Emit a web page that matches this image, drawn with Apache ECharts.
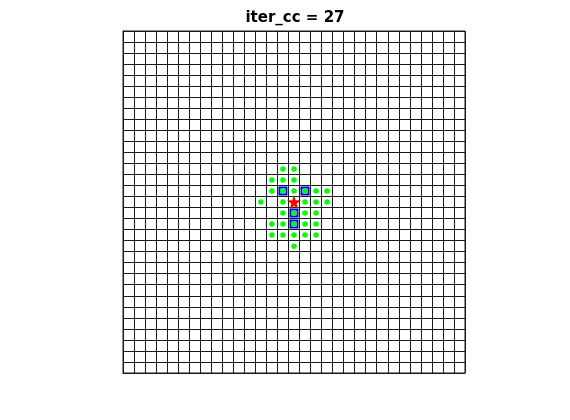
<!DOCTYPE html>
<html>
<head>
<meta charset="utf-8">
<script src="https://cdn.jsdelivr.net/npm/echarts@6/dist/echarts.min.js"></script>
<style>html,body{margin:0;padding:0;background:#fff;}#c{width:570px;height:420px;}</style>
</head>
<body>
<div id="c"></div>
<script>
const titleText = "iter_cc = 27";
const nCells = 31;
const cellLabels = Array.from({length: nCells}, (_, i) => String(i + 1));
// green points: [column index, row index] (0-based, rows counted from top)
const greenCols = [14,15, 13,14,15, 13,14,15,16,17,18, 12,14,16,17,18, 14,15,16,17, 13,14,15,16,17, 13,14,15,16,17, 15];
const greenRows = [12,12, 13,13,13, 14,14,14,14,14,14, 15,15,15,15,15, 16,16,16,16, 17,17,17,17,17, 18,18,18,18,18, 19];
const blueCols = [14, 16, 15, 15];
const blueRows = [14, 14, 16, 17];
const starCols = [15];
const starRows = [15];

const toData = (cols, rows) => cols.map((c, i) => [cellLabels[c], cellLabels[rows[i]]]);

const chart = echarts.init(document.getElementById('c'), null, {renderer: 'canvas'});
const lineColor = '#1a1a1a';
const catAxis = (inverse) => ({
  type: 'category',
  data: cellLabels,
  boundaryGap: true,
  inverse: inverse,
  axisLabel: {show: false},
  axisTick: {show: false},
  axisLine: {show: true, lineStyle: {color: lineColor, width: 1}},
  splitLine: {show: true, interval: 0, lineStyle: {color: lineColor, width: 1}}
});
chart.setOption({
  animation: false,
  backgroundColor: '#ffffff',
  graphic: [{
    type: 'text', x: 295, y: 18,
    style: {text: titleText, textAlign: 'center', textVerticalAlign: 'middle',
      font: 'bold 15px "DejaVu Sans"', fill: '#000'}
  }],
  grid: {left: 123, top: 31, width: 342, height: 342, show: true, borderColor: lineColor, borderWidth: 1, backgroundColor: 'transparent'},
  xAxis: catAxis(false),
  yAxis: catAxis(true),
  series: [
    {
      type: 'scatter', data: toData(blueCols, blueRows), symbol: 'rect', symbolSize: 7,
      itemStyle: {color: 'rgba(0,0,0,0)', borderColor: '#0000ff', borderWidth: 2, opacity: 1}, z: 3
    },
    {
      type: 'scatter', data: toData(greenCols, greenRows), symbol: 'circle', symbolSize: 5.5,
      itemStyle: {color: '#00ff00', opacity: 1}, z: 4
    },
    {
      type: 'scatter', data: toData(starCols, starRows),
      symbol: 'path://M50,0 L61.2,34.5 L97.6,34.5 L68.2,55.9 L79.4,90.5 L50,69.1 L20.6,90.5 L31.8,55.9 L2.4,34.5 L38.8,34.5 Z',
      symbolSize: 14, itemStyle: {color: '#ff0000', opacity: 1}, z: 5
    }
  ]
});
</script>
</body>
</html>
